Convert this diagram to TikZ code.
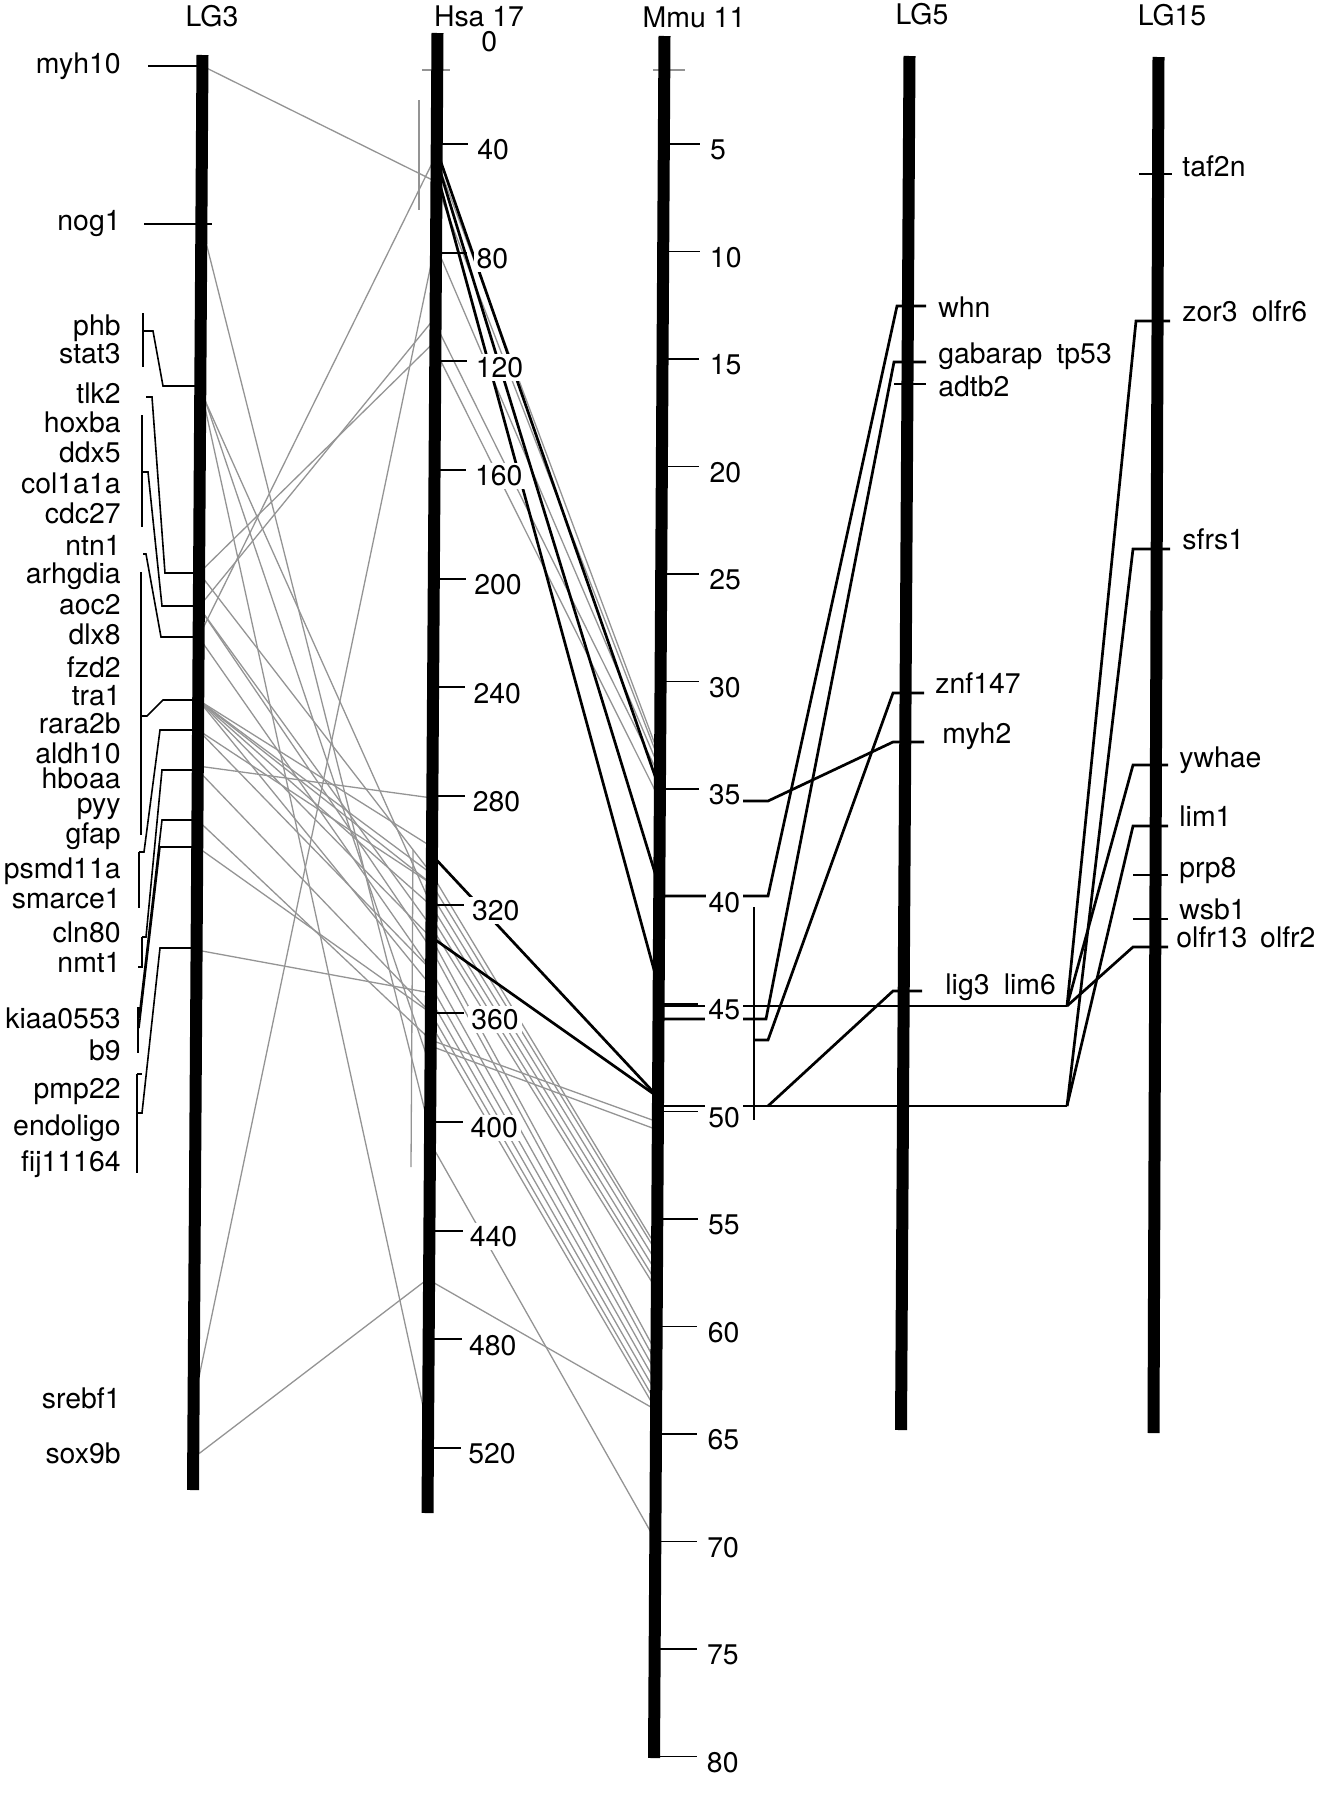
\documentclass[tikz,border=0pt]{standalone}
\usepackage{fontspec}
\setmainfont{TeX Gyre Heros}
\newcommand\mapfont{\fontsize{14.2}{16}\selectfont}

\begin{document}
\begin{tikzpicture}[x=0.5pt,y=-0.5pt,
  chrom/.style={line width=6pt},
  tickmark/.style={line width=0.9pt},
  bracket/.style={line width=0.8pt},
  link/.style={line width=1.35pt},
  homol/.style={line width=0.65pt,draw=black!42},
  title/.style={font=\mapfont,inner sep=0pt,anchor=base},
  lgene/.style={font=\mapfont,inner sep=0pt,anchor=mid east},
  rgene/.style={font=\mapfont,inner sep=0pt,anchor=mid west},
  scalelab/.style={font=\mapfont,inner sep=1.5pt,fill=white,anchor=west}
]
\useasboundingbox (0,0) rectangle (1320,1800);

% grey lines: LG3 -> Hsa 17
\foreach \a/\b in {66/182,224/1131,386/1429,386/1067,390/906,573/341,573/874,
    607/317,607/927,607/949,637/154,637/970,700/847,700/874,700/884,700/906,
    700/938,700/986,730/884,730/970,766/798,770/1013,820/1040,847/1013,
    950/993,1403/240,1458/1278}
  \draw[homol] ({202.5-0.0066*(\a-55)},\a) -- ({437.5-0.0068*(\b-33)},\b);
% grey lines: Hsa 17 -> Mmu 11
\foreach \a/\b in {160/758,185/763,246/770,324/777,350/800,874/1248,884/1253,
    895/1263,906/1273,917/1283,927/1290,938/1353,949/1363,970/1373,986/1383,
    1000/1393,1013/1403,1024/1410,1040/1122,1046/1130,1142/1540,1280/1410}
  \draw[homol] ({437.5-0.0068*(\a-33)},\a) -- ({664.5-0.0061*(\b-36)},\b);
\draw[homol] (419,100) -- (419,210);
\draw[homol] (413,850) -- (411,1167);
\draw[homol] (422,70) -- (450,70);
\draw[homol] (653,70) -- (685,70);

% black lines: Hsa 17 -> Mmu 11
\foreach \a/\b in {150/790,160/887,172/987,855/1097,937/1097}
  \draw[link] ({437.5-0.0068*(\a-33)},\a) -- ({664.5-0.0061*(\b-36)},\b);

% Mmu 11 -> LG5 / LG15
\draw[link] (659,896) -- (768,896) -- (897,306) -- (926,306);
\draw[link] (658,1019) -- (766,1019) -- (894,362) -- (926,362);
\draw[link] (754,1040) -- (768,1040) -- (893,693) -- (924,693);
\draw[link] (743,801) -- (768,801) -- (893,742) -- (924,742);
\draw[link] (768,1106) -- (893,991) -- (922,991);
\draw[link] (658,1006) -- (1067,1006);
\draw[link] (658,1106) -- (1067,1106);
\draw[link] (1067,1006) -- (1136,321) -- (1170,321);
\draw[link] (1067,1006) -- (1133,765) -- (1168,765);
\draw[link] (1067,1006) -- (1133,947) -- (1168,947);
\draw[link] (1067,1106) -- (1133,549) -- (1170,549);
\draw[link] (1067,1106) -- (1133,826) -- (1168,826);
\draw[bracket] (754,907) -- (754,1120);

% LG3 brackets
\foreach \x/\a/\b in {143/313/367,142/415/527,141/572/835,139/852/908,
    142/937/967,138/1008/1053,137/1074/1173}
  \draw[bracket] (\x,\a) -- (\x,\b);
\draw[bracket] (143,331) -- (153,331) -- (163,386) -- (200,386);
\draw[bracket] (146,397) -- (152,397) -- (165,573) -- (200,573);
\draw[bracket] (142,472) -- (148,472) -- (162,606) -- (200,606);
\draw[bracket] (143,554) -- (146,554) -- (161,637) -- (200,637);
\draw[bracket] (141,716) -- (147,716) -- (163,700) -- (200,700);
\draw[bracket] (139,852) -- (144,852) -- (160,730) -- (199,730);
\draw[bracket] (142,937) -- (146,937) -- (162,770) -- (199,770);
\draw[bracket] (138,967) -- (143,967);
\draw[bracket] (137,1008) -- (141,1008);
\draw[bracket] (139,1018) -- (162,820) -- (199,820);
\draw[bracket] (139,1028) -- (160,847) -- (199,847);
\draw[bracket] (137,1074) -- (142,1074);
\draw[bracket] (137,1113) -- (142,1113) -- (160,948) -- (198,948);

% chromosomes
\draw[chrom] (202.5,55) -- (193,1490);
\draw[chrom] (437.5,33) -- (427.5,1513);
\draw[chrom] (664.5,36) -- (654,1758);
\draw[chrom] (909.5,56) -- (901,1430);
\draw[chrom] (1158.5,57) -- (1153.5,1433);

% scales
\node[scalelab] (h0) at (478,42) {0};
\foreach \v in {40,80,...,520}{
  \pgfmathsetmacro\yy{35.3+2.7167*\v}
  \draw[tickmark] ({437.5-0.0068*(\yy-33)},\yy) -- ({468-0.005*(\yy-144)},\yy);
  \node[scalelab] (h\v) at ({474-0.007*(\yy-144)},{\yy+6}) {\v};
}
\foreach \v in {5,10,...,80}{
  \pgfmathsetmacro\yy{36.5+21.5*\v}
  \draw[tickmark] ({664.5-0.0061*(\yy-36)},\yy) -- ({700-0.002*(\yy-36)},\yy);
  \node[scalelab] (m\v) at ({707-0.002*(\yy-36)},{\yy+6}) {\v};
}

% titles
\node[title] (tLG3) at (212,26) {LG3};
\node[title] (tHsa) at (479,26) {Hsa 17};
\node[title] (tMmu) at (694,27) {Mmu 11};
\node[title] (tLG5) at (922,24) {LG5};
\node[title] (tLG15) at (1172,25) {LG15};

% LG3 genes
\draw[tickmark] (148,66) -- (202,66);
\draw[tickmark] (144,224) -- (212,224);
\foreach \g/\y in {myh10/68,nog1/225,phb/330,stat3/358,tlk2/398,hoxba/427,
    ddx5/457,col1a1a/488,cdc27/518,ntn1/550,arhgdia/578,aoc2/609,dlx8/639,
    fzd2/672,tra1/700,rara2b/728,aldh10/758,hboaa/783,pyy/808,gfap/838,
    psmd11a/873,smarce1/903,cln80/937,nmt1/967,kiaa0553/1023,b9/1055,
    pmp22/1093,endoligo/1130,fij11164/1166,srebf1/1403,sox9b/1458}
  \node[lgene] (\g) at (121,\y) {\g};

% LG5 genes
\draw[tickmark] (894,384) -- (926,384);
\node[rgene] (whn) at (938,312) {whn};
\node[rgene] (gabarap) at (938,358) {gabarap\hspace{0.5em}tp53};
\node[rgene] (adtb2) at (938,391) {adtb2};
\node[rgene] (znf147) at (935,688) {znf147};
\node[rgene] (myh2) at (942,738) {myh2};
\node[rgene] (lig3) at (945,989) {lig3\hspace{0.5em}lim6};

% LG15 genes
\draw[tickmark] (1139,174) -- (1172,174);
\draw[tickmark] (1133,875) -- (1168,875);
\draw[tickmark] (1133,919) -- (1168,919);
\node[rgene] (taf2n) at (1182,171) {taf2n};
\node[rgene] (zor3) at (1182,316) {zor3\hspace{0.5em}olfr6};
\node[rgene] (sfrs1) at (1182,544) {sfrs1};
\node[rgene] (ywhae) at (1179,762) {ywhae};
\node[rgene] (lim1) at (1179,821) {lim1};
\node[rgene] (prp8) at (1179,872) {prp8};
\node[rgene] (wsb1) at (1179,914) {wsb1};
\node[rgene] (olfr13) at (1176,942) {olfr13\hspace{0.45em}olfr2};
\end{tikzpicture}
\end{document}
